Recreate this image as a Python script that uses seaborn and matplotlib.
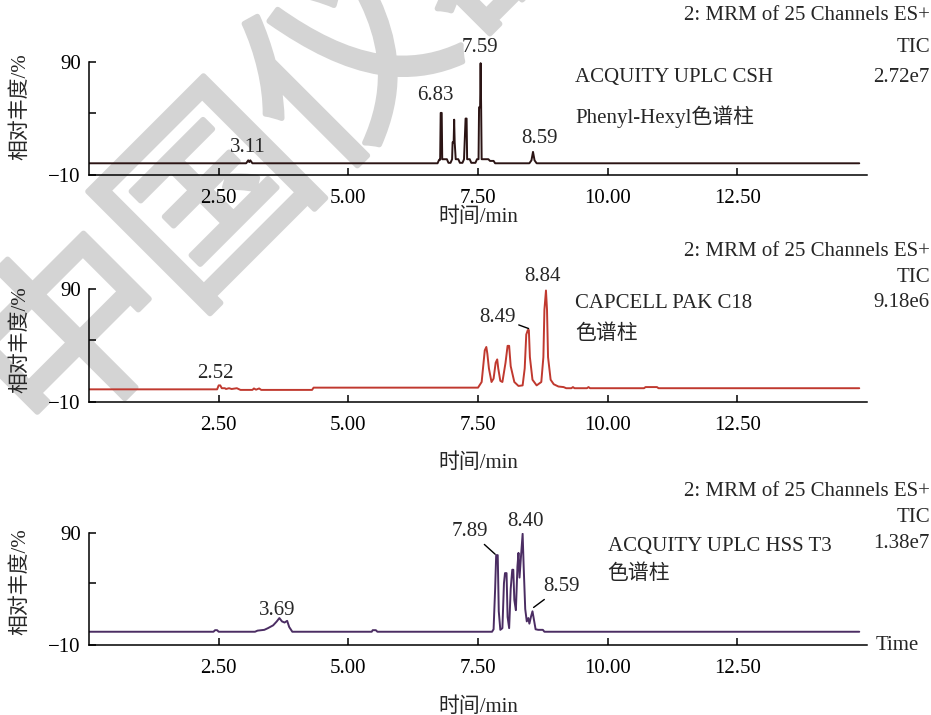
import matplotlib
matplotlib.use('Agg')
import matplotlib.pyplot as plt
import matplotlib.patheffects as pe
import seaborn as sns
import pandas as pd

sns.set_theme(style='ticks')
plt.rcParams['font.family'] = ['Liberation Serif', 'Noto Sans CJK SC']
plt.rcParams['font.size'] = 15

# --- trace 1: ACQUITY UPLC CSH Phenyl-Hexyl ---
t_csh = [0.00, 3.03, 3.07, 3.09, 3.11, 3.15, 6.72, 6.75, 6.77, 6.78, 6.80, 6.81, 6.90, 6.93,
         6.97, 7.00, 7.01, 7.03, 7.04, 7.05, 7.07, 7.12, 7.15, 7.20, 7.23, 7.26, 7.28, 7.29,
         7.34, 7.37, 7.45, 7.48, 7.51, 7.52, 7.54, 7.55, 7.56, 7.57, 7.70, 7.73, 7.80, 7.83,
         8.49, 8.53, 8.56, 8.59, 8.63, 14.85]
v_csh = [0.4, 0.4, 3.0, 1.5, 3.0, 0.4, 0.4, 3.5, 3.5, 45, 45, 4, 4, 0.8,
         0.8, 4, 19, 19, 39, 19, 4, 4, 0.8, 0.8, 4, 40, 40, 4,
         4, 0.8, 0.8, 4, 4, 50, 50, 89, 50, 4, 4, 2.5, 2.5, 0.4,
         0.4, 3, 10.5, 3, 0.4, 0.4]

# --- trace 2: CAPCELL PAK C18 ---
t_c18 = [0.00, 2.47, 2.50, 2.53, 2.56, 2.62, 2.64, 2.70, 2.75, 2.85, 2.92, 3.15, 3.18, 3.22,
         3.28, 3.32, 4.30, 4.33, 7.50, 7.57, 7.63, 7.66, 7.68, 7.71, 7.76, 7.80, 7.84, 7.87,
         7.89, 7.93, 7.97, 8.03, 8.07, 8.10, 8.13, 8.20, 8.28, 8.36, 8.40, 8.43, 8.46, 8.48,
         8.50, 8.55, 8.63, 8.72, 8.76, 8.78, 8.81, 8.83, 8.85, 8.90, 8.96, 9.05, 9.15, 9.20,
         9.30, 9.33, 9.36, 9.60, 9.63, 9.66, 10.70, 10.73, 10.95, 10.98, 14.85]
v_c18 = [1.5, 1.5, 5, 5, 2.5, 2.5, 1.8, 2.5, 1.8, 2.5, 1.0, 1.0, 2.3, 1.2,
         2.3, 1.0, 1.0, 3.0, 3.0, 8, 36, 39, 33, 20, 8, 11, 25, 28,
         20, 9, 8, 25, 40, 40, 22, 8, 4.5, 5, 20, 50, 54, 54,
         30, 10, 5, 8, 30, 72, 89, 72, 30, 10, 6, 4, 3.5, 2.5,
         2.5, 3.5, 2.5, 2.5, 3.5, 2.5, 2.5, 3.5, 3.5, 2.5, 2.5]

# --- trace 3: ACQUITY UPLC HSS T3 ---
t_t3 = [0.00, 2.40, 2.43, 2.47, 2.50, 3.20, 3.25, 3.38, 3.45, 3.55, 3.62, 3.67, 3.72, 3.77,
        3.82, 3.86, 3.92, 5.45, 5.47, 5.53, 5.56, 7.77, 7.80, 7.83, 7.85, 7.88, 7.90, 7.93,
        7.97, 8.00, 8.02, 8.05, 8.07, 8.10, 8.13, 8.16, 8.18, 8.20, 8.23, 8.26, 8.28, 8.30,
        8.33, 8.36, 8.38, 8.41, 8.44, 8.47, 8.49, 8.52, 8.55, 8.58, 8.61, 8.66, 8.75, 8.78,
        14.85]
v_t3 = [1.8, 1.8, 3.2, 3.2, 1.8, 1.8, 2.8, 3.5, 5.0, 7.5, 11, 14, 11, 10,
        11.5, 6, 1.8, 1.8, 3.2, 3.2, 1.8, 1.8, 4, 40, 70, 70, 20, 3.5,
        5, 45, 54, 54, 15, 5, 40, 57, 57, 30, 21, 60, 72, 50,
        70, 89, 60, 22, 11, 14, 9, 15, 20, 12, 4, 3.5, 3.5, 1.8,
        1.8]

columns = ['ACQUITY UPLC CSH', 'CAPCELL PAK C18', 'ACQUITY UPLC HSS T3']
column_notes = ['Phenyl-Hexyl色谱柱', '色谱柱', '色谱柱']
tic_values = ['2.72e7', '9.18e6', '1.38e7']
line_colors = ['#2b1414', '#c0392f', '#4b2d63']

# peak labels: (text, x, y) in data units
peaks_csh = [('3.11', 3.06, 14.8), ('6.83', 6.67, 60.8), ('7.59', 7.54, 102.8), ('8.59', 8.69, 22.7)]
peaks_c18 = [('2.52', 2.44, 15.9), ('8.84', 8.75, 101.2)]
peaks_t3 = [('3.69', 3.63, 21.0), ('8.40', 8.42, 99.8)]

x_ticks = [2.5, 5.0, 7.5, 10.0, 12.5]
x_tick_labels = ['2.50', '5.00', '7.50', '10.00', '12.50']

fig = plt.figure(figsize=(9.31, 7.15), dpi=100)

# watermark, drawn first so the chart sits on top of it
for ch, (px, py) in zip('中国仪器', [(80, 342), (217, 205), (354, 68), (491, -69)]):
    fig.text(px / 931, 1 - py / 715, ch, family='Noto Sans CJK SC',
             fontsize=142, color='#d4d4d4', rotation=45, rotation_mode='anchor',
             ha='center', va='center', zorder=-5,
             path_effects=[pe.withStroke(linewidth=4, foreground='#d4d4d4')])

boxes = [[0.0956, 0.7552, 0.8357, 0.1580],
         [0.0956, 0.4373, 0.8357, 0.1580],
         [0.0956, 0.0979, 0.8357, 0.1571]]
traces = [(t_csh, v_csh), (t_c18, v_c18), (t_t3, v_t3)]
peak_sets = [peaks_csh, peaks_c18, peaks_t3]
ylab_y = [0.604, 0.551, 0.561]
xlab_y = [-0.375, -0.54, -0.55]
col_pos = [(9.37, 76.7, 42.0), (9.37, 77.9, 50.4), (10.0, 77.3, 53.2)]
header_y = [(15, 47, 77), (252, 278, 303), (492, 518, 543)]

axes = []
for i in range(3):
    ax = fig.add_axes(boxes[i])
    ax.set_facecolor('none')
    t, v = traces[i]
    df = pd.DataFrame({'time': t, 'abund': v})
    sns.lineplot(data=df, x='time', y='abund', ax=ax, color=line_colors[i], lw=1.4,
                 sort=False, estimator=None)
    ax.set_xlim(0, 15)
    ax.set_ylim(-10, 90)
    ax.set_xticks(x_ticks)
    ax.set_xticklabels(x_tick_labels)
    ax.set_yticks([-10, 45, 90])
    ax.set_yticklabels(['\u221210', '', '90'])
    ax.tick_params(direction='in', length=5, width=1.1, colors='black', labelsize=15,
                   pad=6)
    ax.tick_params(axis='x', pad=10)
    sns.despine(ax=ax)
    for s in ['left', 'bottom']:
        ax.spines[s].set_color('black')
        ax.spines[s].set_linewidth(1.1)
    ax.set_ylabel('相对丰度/%', fontsize=15)
    ax.yaxis.set_label_coords(-0.0887, ylab_y[i])
    ax.yaxis.label.set_va('center')
    ax.set_xlabel('时间/min', fontsize=15)
    ax.xaxis.set_label_coords(0.5, xlab_y[i])
    ax.xaxis.label.set_va('center')

    for txt, px, py in peak_sets[i]:
        ax.text(px, py, txt, ha='center', va='center', fontsize=15, clip_on=False)

    cx, cy1, cy2 = col_pos[i]
    ax.text(cx, cy1, columns[i], ha='left', va='center', fontsize=15)
    ax.text(cx, cy2, column_notes[i], ha='left', va='center', fontsize=15)

    for txt, yy in zip(['2: MRM of 25 Channels ES+', 'TIC', tic_values[i]], header_y[i]):
        fig.text(930 / 931, 1 - yy / 715, txt, ha='right', va='center', fontsize=15)
    axes.append(ax)

# labels with leader lines
axes[1].annotate('8.49', xy=(8.50, 54.9), xytext=(7.87, 65.5), ha='center', va='center',
                 fontsize=15, arrowprops=dict(arrowstyle='-', lw=1, color='black',
                                              shrinkA=0, shrinkB=1))
axes[2].annotate('7.89', xy=(7.85, 70), xytext=(7.35, 90.9), ha='center', va='center',
                 fontsize=15, annotation_clip=False,
                 arrowprops=dict(arrowstyle='-', lw=1, color='black', shrinkA=0, shrinkB=1))
axes[2].annotate('8.59', xy=(8.55, 22.7), xytext=(9.11, 41.9), ha='center', va='center',
                 fontsize=15, arrowprops=dict(arrowstyle='-', lw=1, color='black',
                                              shrinkA=0, shrinkB=1))
axes[2].text(1.0116, 0.0, 'Time', transform=axes[2].transAxes, ha='left', va='center',
             fontsize=15)

fig.savefig('out.png', dpi=100)
